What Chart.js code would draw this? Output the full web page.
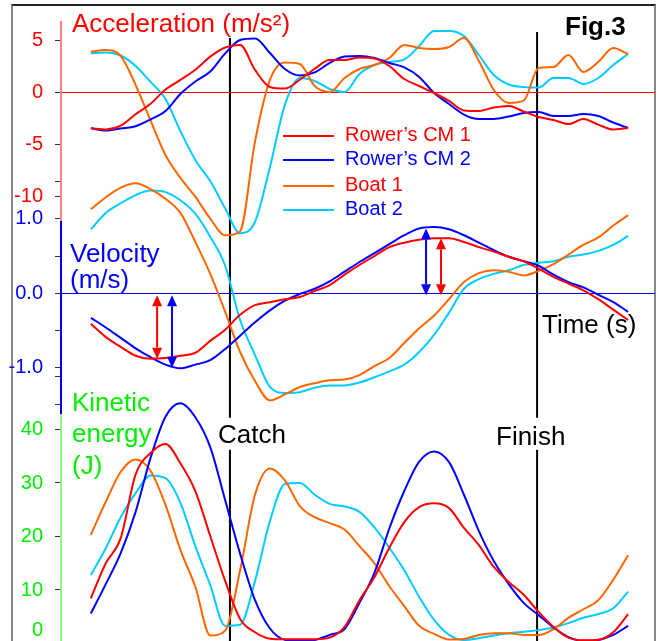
<!DOCTYPE html>
<html>
<head>
<meta charset="utf-8">
<script src="https://cdn.jsdelivr.net/npm/chart.js@4.4.1/dist/chart.umd.min.js"></script>
<style>
  html, body { margin: 0; padding: 0; background: #fff; }
  #wrap { position: relative; width: 661px; height: 641px; overflow: hidden; }
  #wrap canvas { position: absolute; left: 0; top: 0; }
  #frame { position: absolute; left: 11px; top: 4px; width: 641px; height: 700px;
           border-top: 2px solid #222; border-left: 2px solid #888; border-right: 2px solid #888; }
</style>
</head>
<body>
<div id="wrap">
  <div id="frame"></div>
  <canvas id="keCanvas" width="661" height="641"></canvas>
  <canvas id="velCanvas" width="661" height="641"></canvas>
  <canvas id="accCanvas" width="661" height="641"></canvas>
</div>
<script>
// time (s), one sample every 0.05 s
const time = [0, 0.05, 0.1, 0.15, 0.2, 0.25, 0.3, 0.35, 0.4, 0.45, 0.5, 0.55, 0.6, 0.65, 0.7, 0.75, 0.8, 0.85, 0.9, 0.95,
  1, 1.05, 1.1, 1.15, 1.2, 1.25, 1.3, 1.35, 1.4, 1.45, 1.5, 1.55, 1.6, 1.65, 1.7, 1.75, 1.8];

const seriesNames = ["Rower\u2019s CM 1", "Rower\u2019s CM 2", 'Boat 1', 'Boat 2'];
const seriesColors = ['#ff0000', '#0000ff', '#ff6600', '#00ccff'];
const legendTextColors = ['#ff0000', '#0000ff', '#ff0000', '#0000ff'];

// acceleration (m/s2)
const accRower1 = [-3.45, -3.56, -3.2, -2.1, -1.1, 0.26, 1.18, 2.15, 3.41, 4.29, 4.53, 2.14, 0.51, 0.36, 1.2, 2.25, 3.09, 3.09, 3.33, 3.24,
  2.52, 1.27, 0.6, -0.07, -0.83, -1.74, -1.79, -1.46, -1.31, -1.84, -2.37, -2.65, -3.04, -2.56, -3.1, -3.56, -3.42];
const accRower2 = [-3.45, -3.67, -3.47, -3.25, -2.6, -1.79, -0.16, 1.03, 1.99, 3.72, 5.01, 5.15, 3.76, 2.23, 1.61, 1.9, 2.81, 3.43, 3.48, 3.29,
  2.81, 2.38, 1.47, -0.07, -1.12, -2.13, -2.56, -2.56, -2.32, -1.98, -1.89, -2.27, -2.27, -2.08, -2.27, -2.89, -3.42];
const accBoat1 = [3.89, 4.05, 3.48, 0.7, -2.7, -6.0, -8.2, -10.0, -12.1, -13.7, -13.3, -4.7, 1.18, 2.85, 2.71, 0.6, 0.03, 1.37, 2.23, 2.61,
  3.29, 4.53, 4.24, 4.15, 4.34, 5.2, 3.0, 0.22, -1.02, -0.8, 2.33, 2.42, 3.57, 1.94, 2.9, 4.24, 3.67];
const accBoat2 = [3.74, 3.81, 3.52, 2.52, 0.99, -0.64, -3.71, -6.48, -8.5, -11.1, -13.5, -12.4, -7.16, -1.2, 1.37, 1.08, 0.32, 0.03, 1.75, 2.61,
  2.9, 3.14, 4.43, 5.87, 5.87, 5.39, 3.57, 1.66, 0.75, 0.51, 0.46, 1.37, 1.37, 0.8, 1.37, 2.61, 3.67];

// velocity (m/s)
const velRower1 = [-0.41, -0.59, -0.72, -0.84, -0.88, -0.87, -0.84, -0.8, -0.64, -0.49, -0.29, -0.16, -0.12, -0.08, -0.05, 0.03, 0.11, 0.25, 0.38, 0.5,
  0.62, 0.68, 0.72, 0.74, 0.74, 0.69, 0.62, 0.56, 0.49, 0.43, 0.33, 0.22, 0.13, 0.04, -0.08, -0.22, -0.36];
const velRower2 = [-0.33, -0.46, -0.6, -0.74, -0.86, -0.96, -1.01, -0.96, -0.9, -0.75, -0.57, -0.39, -0.23, -0.1, -0.01, 0.06, 0.16, 0.29, 0.42, 0.54,
  0.66, 0.78, 0.87, 0.89, 0.86, 0.78, 0.68, 0.58, 0.49, 0.43, 0.37, 0.25, 0.15, 0.08, -0.02, -0.12, -0.25];
const velBoat1 = [1.13, 1.29, 1.42, 1.48, 1.4, 1.27, 1.08, 0.69, 0.26, -0.25, -0.79, -1.18, -1.44, -1.36, -1.26, -1.21, -1.17, -1.16, -1.1, -0.98,
  -0.87, -0.67, -0.47, -0.3, -0.08, 0.15, 0.27, 0.31, 0.29, 0.24, 0.3, 0.39, 0.52, 0.65, 0.75, 0.91, 1.05];
const velBoat2 = [0.86, 1.08, 1.21, 1.32, 1.38, 1.36, 1.25, 1.07, 0.76, 0.37, -0.36, -0.83, -1.26, -1.34, -1.33, -1.27, -1.24, -1.24, -1.2, -1.13,
  -1.05, -0.96, -0.79, -0.56, -0.26, 0.06, 0.19, 0.26, 0.31, 0.38, 0.41, 0.43, 0.49, 0.52, 0.57, 0.65, 0.77];

// kinetic energy (J)
const keRower1 = [8.45, 15.0, 19.7, 31.6, 35.6, 37.3, 33.7, 28.5, 20.1, 11.7, 4.6, 2.1, 0.9, 0.8, 0.8, 0.8, 1.1, 3.1, 8.1, 12.4,
  17.9, 22.7, 25.5, 26.2, 25.3, 21.6, 18.4, 14.3, 11.5, 9.1, 5.9, 3.1, 1.1, 0.6, 0.7, 2.1, 5.5];
const keRower2 = [5.6, 11.1, 16.9, 24.6, 34.7, 42.4, 44.9, 42.3, 36.7, 26.8, 16.8, 8.1, 2.8, 0.7, 0.5, 0.65, 1.6, 2.7, 7.6, 13.2,
  21.5, 28.5, 34.0, 35.9, 33.9, 27.8, 21.0, 15.4, 11.1, 7.6, 5.3, 3.0, 1.2, 0.5, 0.65, 1.6, 3.3];
const keBoat1 = [20.3, 26.5, 32.1, 34.4, 32.3, 25.9, 17.5, 10.6, 1.5, 2.4, 13.7, 27.8, 32.7, 30.5, 25.7, 23.6, 22.5, 21.3, 18.2, 15.0,
  10.7, 7.0, 3.3, 1.8, 0.75, 0.85, 1.6, 1.9, 1.9, 1.6, 1.6, 2.7, 4.8, 6.4, 8.1, 11.9, 16.5];
const keBoat2 = [12.8, 17.8, 23.6, 28.1, 31.4, 30.9, 26.3, 18.2, 10.9, 3.3, 3.5, 11.7, 22.9, 29.8, 30.0, 27.8, 26.1, 25.6, 24.6, 21.7,
  17.9, 13.7, 8.7, 4.4, 1.6, 0.65, 1.0, 1.5, 1.9, 2.2, 2.5, 3.0, 3.8, 4.8, 5.5, 6.6, 9.7];

// axis ticks
const accTicks = [-10, -5, 0, 5];
const velTicks = [-1.5, -1, -0.5, 0, 0.5, 1, 1.5, 2];
const velLabelled = [-1, 0, 1];
const keTicks = [10, 20, 30, 40, 50];
const keLabelled = [10, 20, 30, 40];

// catch / finish markers (time) and their extent on the energy scale
const catchTime = 0.466;
const finishTime = 1.495;
const catchTop = 113.2;
const finishTop = 114.3;
const markerGap = [42.2, 36.2];

// velocity difference arrows
const arrowTimes = [0.222, 0.272, 1.123, 1.173];
const arrowValues = [-0.88, -1.0, 0.87, 0.74];
const arrowColors = ['#ff0000', '#0000ff', '#0000ff', '#ff0000'];

Chart.defaults.font.family = "'Liberation Sans', Arial, sans-serif";

const toPoints = vals => vals.map((v, i) => ({x: time[i], y: v}));

function lineSets(series) {
    return series.map((vals, i) => ({
        label: seriesNames[i],
        data: toPoints(vals),
        borderColor: seriesColors[i],
        borderWidth: 2,
        pointRadius: 0,
        cubicInterpolationMode: 'monotone',
        clip: false
    }));
}

function yAxis(min, max, ticks, color, borderColor, zeroColor, label) {
    return {
        min: min,
        max: max,
        afterBuildTicks: s => { s.ticks = ticks.map(v => ({value: v})); },
        afterFit: s => { s.width = 61; s.paddingTop = 0; s.paddingBottom = 0; },
        border: {color: borderColor, width: 2},
        grid: {
            color: c => (zeroColor && c.tick && c.tick.value === 0) ? zeroColor : 'rgba(0,0,0,0)',
            tickColor: '#333',
            tickLength: 6,
            lineWidth: 1
        },
        ticks: {color: color, autoSkip: false, padding: 12, font: {size: 20}, callback: label}
    };
}

function options(top, bottom, y) {
    return {
        responsive: false,
        animation: false,
        devicePixelRatio: 1,
        events: [],
        layout: {padding: {left: 0, right: 6, top: top, bottom: bottom}},
        plugins: {legend: {display: false}, tooltip: {enabled: false}},
        scales: {
            x: {type: 'linear', display: false, min: -0.1, max: 1.89},
            y: y
        }
    };
}

// vertical catch / finish lines, broken where the label sits
function marker(t, top) {
    return {
        data: [{x: t, y: top}, {x: t, y: markerGap[0]}, {x: t, y: null}, {x: t, y: markerGap[1]}, {x: t, y: -1}],
        borderColor: '#000',
        borderWidth: 2,
        pointRadius: 0,
        tension: 0,
        spanGaps: false,
        clip: false
    };
}

// kinetic energy chart
new Chart(document.getElementById('keCanvas'), {
    type: 'line',
    data: {datasets: lineSets([keRower1, keRower2, keBoat1, keBoat2]).concat([marker(catchTime, catchTop), marker(finishTime, finishTop)])},
    options: options(376, 0, yAxis(0.467, 50, keTicks, '#00ee00', '#88ff88', null,
        v => keLabelled.includes(v) ? String(v) : ''))
});

// arrows between zero line and velocity extremes
const arrowPlugin = {
    id: 'arrows',
    afterDatasetsDraw(chart) {
        const {ctx, scales: {x, y}} = chart;
        const head = 11;
        arrowTimes.forEach((t, i) => {
            const px = x.getPixelForValue(t);
            const y0 = y.getPixelForValue(0) + 2;
            const y1 = y.getPixelForValue(arrowValues[i]);
            const dir = y1 > y0 ? 1 : -1;
            ctx.save();
            ctx.strokeStyle = arrowColors[i];
            ctx.fillStyle = arrowColors[i];
            ctx.lineWidth = 2;
            ctx.beginPath();
            ctx.moveTo(px, y0 + dir * head);
            ctx.lineTo(px, y1 - dir * head);
            ctx.stroke();
            [[y0, -dir], [y1, dir]].forEach(([yy, d]) => {
                ctx.beginPath();
                ctx.moveTo(px, yy);
                ctx.lineTo(px - 5, yy - d * head);
                ctx.lineTo(px + 5, yy - d * head);
                ctx.closePath();
                ctx.fill();
            });
            ctx.restore();
        });
    }
};

// velocity chart
new Chart(document.getElementById('velCanvas'), {
    type: 'line',
    data: {datasets: lineSets([velRower1, velRower2, velBoat1, velBoat2])},
    options: options(143, 228, yAxis(-1.61, 2.02, velTicks, '#0000ff', '#0000ff', '#0000ff',
        v => velLabelled.includes(v) ? v.toFixed(1) : '')),
    plugins: [arrowPlugin]
});

// titles, legend and labels
const labels = [
    {text: 'Acceleration (m/s\u00b2)', x: 72, y: 32, color: '#ff0000'},
    {text: 'Fig.3', x: 565, y: 35, color: '#000', bold: true},
    {text: 'Velocity', x: 70, y: 262, color: '#0000ff'},
    {text: '(m/s)', x: 70, y: 288, color: '#0000ff'},
    {text: 'Kinetic', x: 72, y: 411, color: '#00ee00'},
    {text: 'energy', x: 72, y: 442, color: '#00ee00'},
    {text: '(J)', x: 72, y: 474, color: '#00ee00'},
    {text: 'Time (s)', x: 542, y: 333, color: '#000'},
    {text: 'Catch', x: 218, y: 443, color: '#000'},
    {text: 'Finish', x: 496, y: 445, color: '#000'}
];

const textPlugin = {
    id: 'texts',
    afterDraw(chart) {
        const ctx = chart.ctx;
        ctx.save();
        ctx.textBaseline = 'alphabetic';
        labels.forEach(l => {
            ctx.font = (l.bold ? 'bold ' : '') + "26px 'Liberation Sans', Arial, sans-serif";
            ctx.fillStyle = l.color;
            ctx.textAlign = 'left';
            ctx.fillText(l.text, l.x, l.y);
        });
        // zero label of the energy axis
        ctx.font = "20px 'Liberation Sans', Arial, sans-serif";
        ctx.fillStyle = '#00ee00';
        ctx.textAlign = 'right';
        ctx.textBaseline = 'middle';
        ctx.fillText('0', 43, 630);
        // legend
        const rows = [136, 160, 186, 210];
        ctx.font = "20px 'Liberation Sans', Arial, sans-serif";
        ctx.textAlign = 'left';
        seriesNames.forEach((name, i) => {
            ctx.strokeStyle = seriesColors[i];
            ctx.lineWidth = 2;
            ctx.beginPath();
            ctx.moveTo(283, rows[i]);
            ctx.lineTo(334, rows[i]);
            ctx.stroke();
            ctx.fillStyle = legendTextColors[i];
            ctx.fillText(name, 345, rows[i] - 1);
        });
        ctx.restore();
    }
};

// acceleration chart
new Chart(document.getElementById('accCanvas'), {
    type: 'line',
    data: {datasets: lineSets([accRower1, accRower2, accBoat1, accBoat2])},
    options: options(22, 421, yAxis(-12.23, 6.73, accTicks, '#ff0000', '#ff8080', '#ff0000', v => String(v))),
    plugins: [textPlugin]
});
</script>
</body>
</html>
